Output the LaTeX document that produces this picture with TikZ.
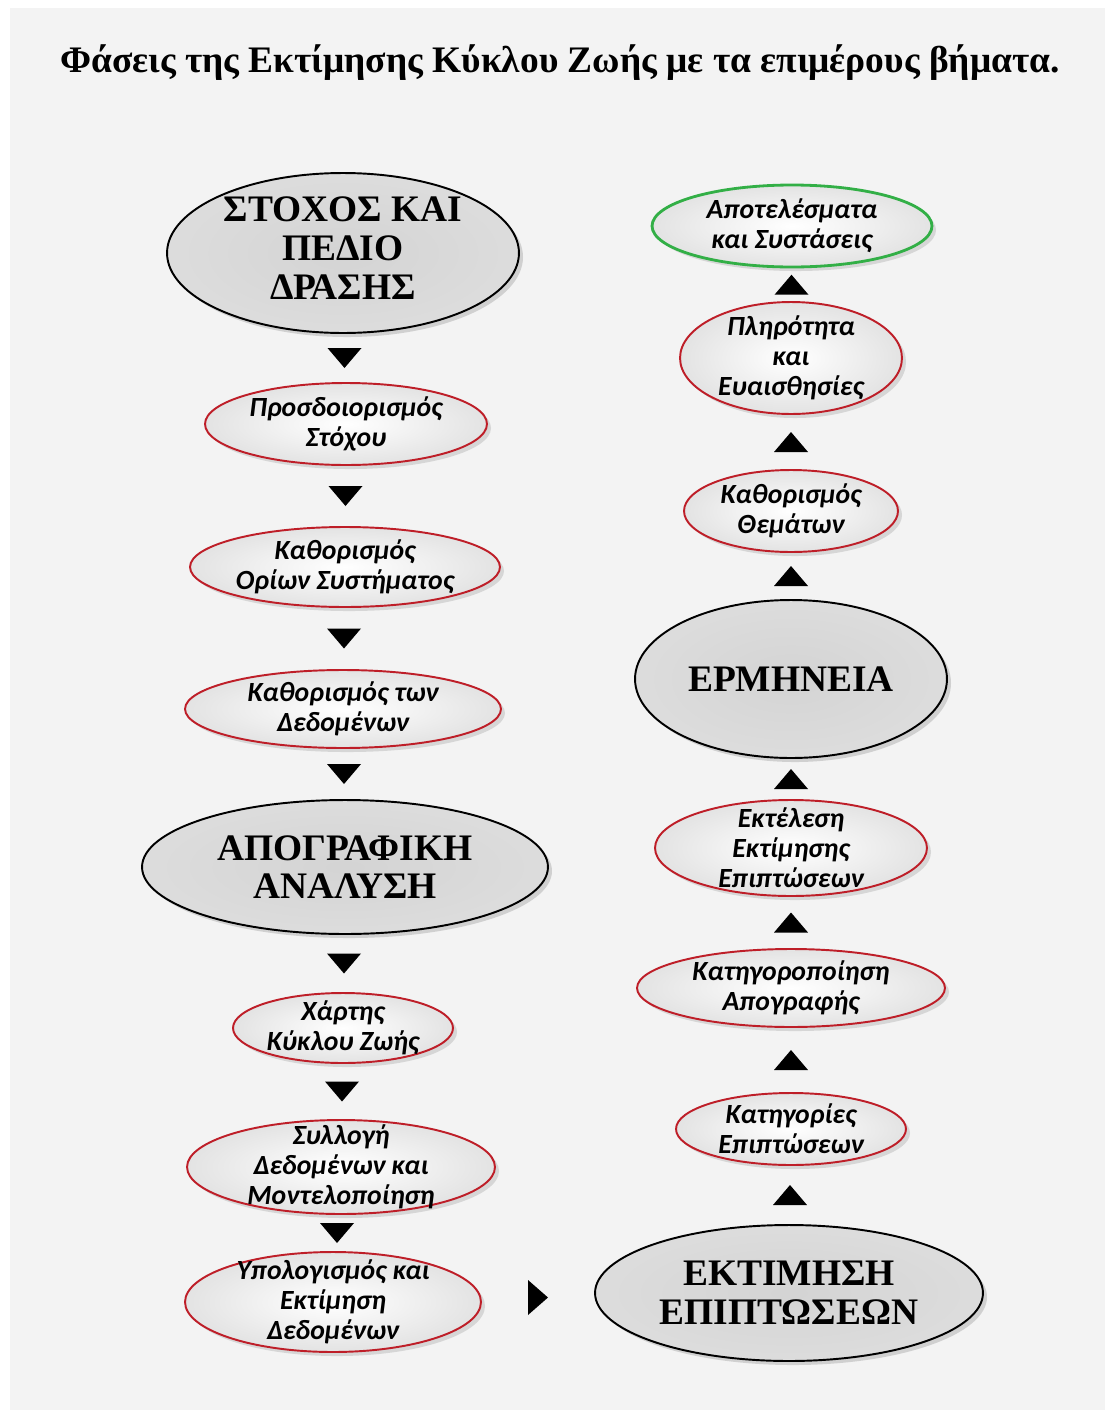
\documentclass[tikz,border=0pt]{standalone}
\usepackage{fontspec}
\setmainfont{Liberation Serif}
\newfontfamily\calibfont{Carlito}
\usetikzlibrary{positioning,calc,shapes.geometric,shadows}
\definecolor{bgpanel}{RGB}{243,243,243}
\definecolor{ringred}{RGB}{190,30,40}
\definecolor{ringgreen}{RGB}{50,175,70}
\tikzset{
  phase/.style 2 args={ellipse, draw=black, line width=1.1pt, inner color=gray!34, outer color=gray!27,
    drop shadow={opacity=0.3}, minimum width=#1cm, minimum height=#2cm},
  substep/.style 2 args={ellipse, draw=ringred, line width=1.1pt, inner color=white, outer color=gray!22,
    drop shadow={opacity=0.25}, minimum width=#1cm, minimum height=#2cm},
  phasetxt/.style={align=center, font=\fontsize{21.3}{22}\selectfont\bfseries},
  steptxt/.style={align=center, font=\calibfont\fontsize{15.8}{17}\selectfont\bfseries\itshape},
  titletxt/.style={font=\fontsize{21.3}{24}\selectfont\bfseries}
}
% black pointers between the stages
\newcommand{\tridown}[2]{\fill ($(#1.south)!0.5!(#2.north)$) ++(-17,10) -- ++(34,0) -- ++(-17,-20) -- cycle;}
\newcommand{\triup}[2]{\fill ($(#1.north)!0.5!(#2.south)$) ++(-17,-10) -- ++(34,0) -- ++(-17,20) -- cycle;}
\newcommand{\triright}[2]{\fill ($(#1.east)!0.5!(#2.west)$) ++(-10,17.5) -- ++(0,-35) -- ++(20,17.5) -- cycle;}

\begin{document}
\begin{tikzpicture}[x=0.02cm,y=0.02cm]
\useasboundingbox (0,0) rectangle (1105,-1410);
\fill[white] (0,0) rectangle (1105,-1410);
\fill[bgpanel] (10,-8) rectangle (1105,-1410);

\node[titletxt, anchor=base] (title) at (560,-72) {Φάσεις της Εκτίμησης Κύκλου Ζωής με τα επιμέρους βήματα.};

% left column
\node[phase={7.04}{3.2}, label={[phasetxt, yshift=0.1cm]center:ΣΤΟΧΟΣ ΚΑΙ\\ΠΕΔΙΟ\\ΔΡΑΣΗΣ}] (goal) at (343,-253) {};
\node[substep={5.64}{1.64}, label={[steptxt]center:Προσδοιορισμός\\Στόχου}] (g1) at (346,-424) {};
\node[substep={6.2}{1.6}, label={[steptxt]center:Καθορισμός\\Ορίων Συστήματος}] (g2) at (345,-567) {};
\node[substep={6.32}{1.56}, label={[steptxt]center:Καθορισμός των\\Δεδομένων}] (g3) at (343,-709) {};
\node[phase={8.12}{2.68}, label={[phasetxt]center:ΑΠΟΓΡΑΦΙΚΗ\\ΑΝΑΛΥΣΗ}] (inv) at (345,-867) {};
\node[substep={4.4}{1.4}, label={[steptxt]center:Χάρτης\\Κύκλου Ζωής}] (i1) at (343,-1028) {};
\node[substep={6.16}{1.88}, label={[steptxt]center:Συλλογή\\Δεδομένων και\\Μοντελοποίηση}] (i2) at (341,-1167) {};
\node[substep={5.92}{2.0}, label={[steptxt]center:Υπολογισμός και\\Εκτίμηση\\Δεδομένων}] (i3) at (333,-1302) {};

% right column
\node[phase={7.76}{2.72}, label={[phasetxt]center:ΕΚΤΙΜΗΣΗ\\ΕΠΙΠΤΩΣΕΩΝ}] (impact) at (789,-1293) {};
\node[substep={4.6}{1.44}, label={[steptxt]center:Κατηγορίες\\Επιπτώσεων}] (e1) at (791,-1129) {};
\node[substep={6.16}{1.56}, label={[steptxt]center:Κατηγοροποίηση\\Απογραφής}] (e2) at (791,-988) {};
\node[substep={5.44}{1.92}, label={[steptxt]center:Εκτέλεση\\Εκτίμησης\\Επιπτώσεων}] (e3) at (791,-848) {};
\node[phase={6.24}{3.16}, label={[phasetxt]center:ΕΡΜΗΝΕΙΑ}] (interp) at (791,-679) {};
\node[substep={4.28}{1.64}, label={[steptxt]center:Καθορισμός\\Θεμάτων}] (r1) at (791,-511) {};
\node[substep={4.44}{2.24}, label={[steptxt]center:Πληρότητα\\και\\Ευαισθησίες}] (r2) at (791,-358) {};
\node[substep={5.6}{1.64}, draw=ringgreen, line width=1.6pt, label={[steptxt]center:Αποτελέσματα\\και Συστάσεις}] (result) at (792,-226) {};

\tridown{goal}{g1}
\tridown{g1}{g2}
\tridown{g2}{g3}
\tridown{g3}{inv}
\tridown{inv}{i1}
\tridown{i1}{i2}
\tridown{i2}{i3}
\triright{i3}{impact}
\triup{impact}{e1}
\triup{e1}{e2}
\triup{e2}{e3}
\triup{e3}{interp}
\triup{interp}{r1}
\triup{r1}{r2}
\triup{r2}{result}
\end{tikzpicture}
\end{document}
